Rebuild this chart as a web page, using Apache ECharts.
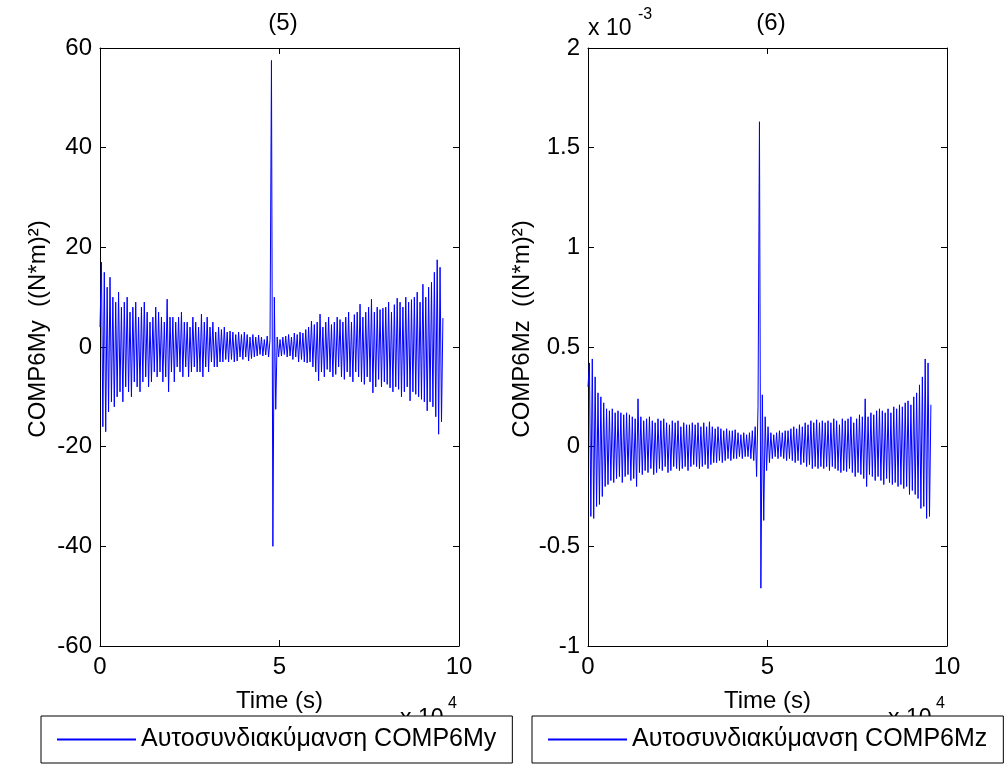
<!DOCTYPE html>
<html>
<head>
<meta charset="utf-8">
<script src="https://cdn.jsdelivr.net/npm/echarts@6/dist/echarts.min.js"></script>
<style>html,body{margin:0;padding:0;background:#fff}#c{width:1006px;height:764px}</style>
</head>
<body>
<div id="c"></div>
<script>
// sample spacing of the lag axis (s)
const DT = 398;
// x tick labels (x 10^4)
const xTicks = [0, 5, 10];
const yTicksMy = [-60, -40, -20, 0, 20, 40, 60];
const yTicksMz = [-1, -0.5, 0, 0.5, 1, 1.5, 2]; // x 10^-3
const seriesNames = ['Αυτοσυνδιακύμανση COMP6My', 'Αυτοσυνδιακύμανση COMP6Mz'];
const titles = ['(5)', '(6)'];

// Autocovariance COMP6My ((N*m)^2)
const valuesMy = [
4, 17, -16, 15, -17, 12, -13, 14, -11, 10,
-12, 9, -10, 11, -9, 8, -11, 9, -8, 10,
-9, 7, -10, 8, -7, 9, -8, 6, -9, 8,
-7, 9, -6, 7, -8, 5, -7, 6, -5, 8,
-6, 7, -5, 6, -7, 5, -6, 9.6, -9, 6,
-5, 6, -7, 5, -4, 6, -5, 7, -6, 5,
-4, 5, -6, 4, -5, 6, -4, 5, -5, 4,
-5, 6.6, -6, 5, -4, 6, -5, 4, -3, 5,
-4, 3, -4, 4, -3, 3.5, -3, 4, -2.5, 3,
-3, 3.2, -2.5, 3, -3, 2.5, -2.8, 3, -2, 2.5,
-2.5, 3, -2, 2.5, -2.8, 2, -2.3, 2.5, -2, 2,
-1.8, 2.4, -1.5, 2, -1.8, 1.5, -1.6, 2.2, -2, 1.5,
57.5, -40, 10, -12.5, 2, -2, 1.5, -1.8, 2, -1.5,
2.2, -2, 2.5, -1.8, 2, -2.5, 2.8, -2, 2.5, -3,
3, -2.5, 2.8, -3, 3.5, -3.2, 4, -3, 5.2, -4,
4.5, -5, 5, -6.8, 6.6, -5, 4, -6, 5, -4.5,
6, -5, 4.5, -6, 5, -5.5, 6, -4, 5.5, -6,
5, -6.5, 6, -5, 7, -6, 5, -7, 6.5, -5,
7, -6, 8.6, -7, 6, -7.5, 7, -6, 8, -7,
9.6, -9.2, 7, -8, 8, -6.5, 7.5, -8, 7.8, -7,
8, -7.5, 9, -8.2, 7, -9, 8.5, -8, 9.8, -8.5,
9, -10, 8, -9, 10, -8, 9, -10.8, 9.5, -9,
10, -9.5, 11, -10, 9, -10.5, 12.6, -11, 10, -12.8,
12, -11, 13, -12, 15, -14, 17.5, -17.5, 16, -15,
5.8
];

// Autocovariance COMP6Mz ((N*m)^2), in units of 10^-3
const valuesMz = [
0.3, 0.42, -0.35, 0.44, -0.36, 0.35, -0.3, 0.27, -0.29, 0.25,
-0.25, 0.22, -0.2, 0.19, -0.19, 0.18, -0.17, 0.19, -0.18, 0.17,
-0.16, 0.18, -0.15, 0.17, -0.18, 0.16, -0.15, 0.17, -0.14, 0.16,
-0.17, 0.15, -0.16, 0.14, -0.2, 0.24, -0.13, 0.15, -0.14, 0.13,
-0.12, 0.14, -0.13, 0.15, -0.11, 0.13, -0.14, 0.12, -0.13, 0.14,
-0.11, 0.13, -0.12, 0.14, -0.1, 0.12, -0.13, 0.11, -0.12, 0.13,
-0.1, 0.12, -0.11, 0.13, -0.12, 0.1, -0.11, 0.12, -0.1, 0.11,
-0.12, 0.11, -0.1, 0.12, -0.09, 0.11, -0.1, 0.12, -0.11, 0.1,
-0.1, 0.12, -0.09, 0.1, -0.11, 0.125, -0.09, 0.1, -0.08, 0.09,
-0.08, 0.1, -0.07, 0.09, -0.08, 0.08, -0.07, 0.09, -0.06, 0.08,
-0.07, 0.08, -0.06, 0.085, -0.06, 0.07, -0.05, 0.06, -0.06, 0.07,
-0.05, 0.06, -0.05, 0.07, -0.06, 0.08, -0.07, 0.1, -0.15, 0.2,
1.63, -0.71, 0.26, -0.37, 0.15, -0.12, 0.1, -0.08, 0.07, -0.06,
0.06, -0.05, 0.07, -0.06, 0.08, -0.05, 0.07, -0.06, 0.08, -0.07,
0.08, -0.06, 0.09, -0.07, 0.1, -0.08, 0.09, -0.07, 0.11, -0.09,
0.1, -0.08, 0.12, -0.1, 0.11, -0.09, 0.13, -0.11, 0.12, -0.1,
0.135, -0.11, 0.12, -0.1, 0.13, -0.11, 0.12, -0.1, 0.13, -0.12,
0.12, -0.1, 0.14, -0.11, 0.13, -0.12, 0.11, -0.13, 0.14, -0.12,
0.13, -0.125, 0.14, -0.11, 0.15, -0.13, 0.12, -0.15, 0.14, -0.13,
0.16, -0.14, 0.15, -0.16, 0.24, -0.2, 0.15, -0.14, 0.17, -0.15,
0.16, -0.17, 0.18, -0.15, 0.19, -0.17, 0.18, -0.19, 0.17, -0.16,
0.19, -0.18, 0.17, -0.19, 0.2, -0.18, 0.19, -0.2, 0.21, -0.19,
0.2, -0.21, 0.22, -0.2, 0.23, -0.24, 0.21, -0.22, 0.25, -0.24,
0.27, -0.26, 0.31, -0.31, 0.35, -0.3, 0.44, -0.36, 0.42, -0.35,
0.21
];

const FONT = '"Liberation Sans", Arial, sans-serif';
const FS = 24;
const LFS = 25;
const BLACK = '#000';
const BLUE = '#0000ff';

function toPairs(arr){ return arr.map((v,i)=>[i*DT, v]); }

function xAxes(gi){
  const base = {
    gridIndex: gi, type: 'value', min: 0, max: 100000, interval: 50000,
    axisLine: {show: true, onZero: false, lineStyle: {color: BLACK, width: 1}},
    axisTick: {show: true, inside: true, length: 6, lineStyle: {color: BLACK}},
    splitLine: {show: false}
  };
  return [
    Object.assign({}, base, {
      position: 'bottom',
      axisLabel: {show: true, color: BLACK, fontSize: FS, fontFamily: FONT, margin: 9,
        formatter: v => String(xTicks[Math.round(v/50000)])},
      name: 'Time (s)', nameLocation: 'middle', nameGap: 43,
      nameTextStyle: {color: BLACK, fontSize: FS, fontFamily: FONT}
    }),
    Object.assign({}, base, {position: 'top', axisLabel: {show: false}})
  ];
}
function yAxes(gi, ticks, name){
  const min = ticks[0], max = ticks[ticks.length-1], step = ticks[1]-ticks[0];
  const base = {
    gridIndex: gi, type: 'value', min: min, max: max, interval: step,
    axisLine: {show: true, onZero: false, lineStyle: {color: BLACK, width: 1}},
    axisTick: {show: true, inside: true, length: 6, lineStyle: {color: BLACK}},
    splitLine: {show: false}
  };
  return [
    Object.assign({}, base, {
      position: 'left',
      axisLabel: {show: true, color: BLACK, fontSize: FS, fontFamily: FONT, margin: 8,
        formatter: v => { const t = ticks.find(k => Math.abs(k - v) < step/100); return t === undefined ? '' : String(t); }},
      name: name, nameLocation: 'middle', nameRotate: 90, nameGap: 50,
      nameTextStyle: {color: BLACK, fontSize: FS, fontFamily: FONT, padding: [0, 0, 0, 36]}
    }),
    Object.assign({}, base, {position: 'right', axisLabel: {show: false}})
  ];
}

const chart = echarts.init(document.getElementById('c'), null, {renderer: 'canvas'});
const supText = (x, y, t, size) => ({type: 'text', z: 1, x: x, y: y,
  style: {text: t, font: size + 'px ' + FONT, fill: BLACK, textVerticalAlign: 'middle', verticalAlign: 'middle'}});
const legendBase = {
  z: 10, padding: [11, 16, 11, 16], itemWidth: 79, itemHeight: 2, itemGap: 7,
  backgroundColor: '#fff', borderColor: BLACK, borderWidth: 1, borderRadius: 0,
  itemStyle: {color: BLUE, borderWidth: 0},
  textStyle: {color: BLACK, fontSize: LFS, fontFamily: FONT}
};

chart.setOption({
  animation: false,
  backgroundColor: '#fff',
  title: [
    {text: titles[0], left: 278, top: 6, textAlign: 'center', textStyle: {fontSize: FS, fontWeight: 'normal', color: BLACK, fontFamily: FONT}},
    {text: titles[1], left: 766, top: 6, textAlign: 'center', textStyle: {fontSize: FS, fontWeight: 'normal', color: BLACK, fontFamily: FONT}}
  ],
  grid: [
    {left: 100, top: 48, width: 359, height: 598},
    {left: 588, top: 48, width: 359, height: 598}
  ],
  xAxis: xAxes(0).concat(xAxes(1)),
  yAxis: yAxes(0, yTicksMy, 'COMP6My  ((N*m)²)').concat(yAxes(1, yTicksMz, 'COMP6Mz  ((N*m)²)')),
  legend: [
    Object.assign({}, legendBase, {data: [{name: seriesNames[0], icon: 'rect', itemStyle: {color: BLUE}}], left: 41, top: 716}),
    Object.assign({}, legendBase, {data: [{name: seriesNames[1], icon: 'rect', itemStyle: {color: BLUE}}], left: 532, top: 716})
  ],
  graphic: [
    supText(588, 29, 'x 10', 23), supText(638, 15, '-3', 16),
    supText(400, 719, 'x 10', 23), supText(448, 704, '4', 16),
    supText(888, 719, 'x 10', 23), supText(936, 704, '4', 16)
  ],
  series: [
    {name: seriesNames[0], type: 'line', xAxisIndex: 0, yAxisIndex: 0, data: toPairs(valuesMy),
     symbol: 'none', showSymbol: false, sampling: false, lineStyle: {color: BLUE, width: 1}, itemStyle: {color: BLUE}},
    {name: seriesNames[1], type: 'line', xAxisIndex: 2, yAxisIndex: 2, data: toPairs(valuesMz),
     symbol: 'none', showSymbol: false, sampling: false, lineStyle: {color: BLUE, width: 1}, itemStyle: {color: BLUE}}
  ]
});
</script>
</body>
</html>
